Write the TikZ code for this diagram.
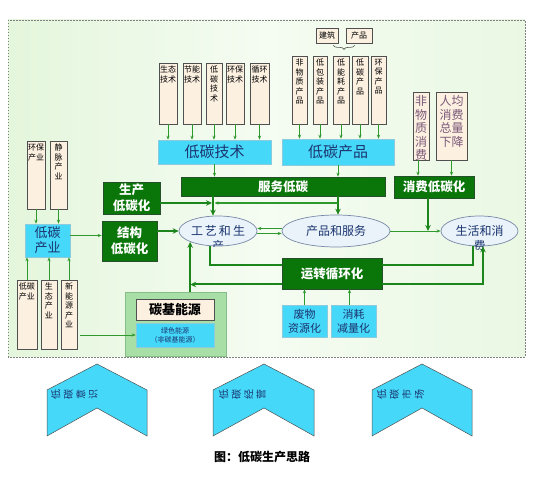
\documentclass[tikz,border=0pt]{standalone}
\usepackage{fontspec}
\setmainfont{Noto Sans CJK SC}
\usetikzlibrary{arrows.meta,shapes.geometric,decorations.pathreplacing}

\definecolor{bggreen}{HTML}{E4F6DC}
\definecolor{bglight}{HTML}{F5FCF2}
\definecolor{beige}{HTML}{FCF0E1}
\definecolor{boxgray}{HTML}{505050}
\definecolor{skyfill}{HTML}{45D8F8}
\definecolor{skyline}{HTML}{8CCBDD}
\definecolor{navy}{HTML}{1B3470}
\definecolor{darkgrn}{HTML}{0A760A}
\definecolor{grnbord}{HTML}{24502A}
\definecolor{arrgrn}{HTML}{2E9A2E}
\definecolor{thkgrn}{HTML}{1C851C}
\definecolor{ovfill}{HTML}{E9F3F9}
\definecolor{ovline}{HTML}{7888A8}
\definecolor{grpfill}{HTML}{A7DFA7}
\definecolor{grpline}{HTML}{88BC88}
\definecolor{plum}{HTML}{7A5878}

\newcommand{\sidech}[1]{\rotatebox{90}{#1}\hspace{3.3pt}}

\begin{document}
\begin{tikzpicture}[x=1pt,y=-1pt,
  colbox/.style={draw=boxgray, fill=beige, line width=0.7pt, inner sep=0pt},
  coltxt/.style={anchor=north, align=center, inner sep=0pt, yshift=-3pt, font=\fontsize{8}{9.5}\selectfont},
  bigtxt/.style={anchor=north, align=center, inner sep=0pt, yshift=-4pt, text=plum, font=\fontsize{12}{13.5}\selectfont},
  skybox/.style={draw=skyline, fill=skyfill, text=navy, align=center, inner sep=0pt, line width=0.6pt},
  grnbox/.style={draw=grnbord, fill=darkgrn, text=white, align=center, inner sep=0pt, line width=0.6pt, font=\bfseries\fontsize{12.5}{16}\selectfont},
  oval/.style={ellipse, draw=ovline, fill=ovfill, inner sep=0pt, line width=0.7pt},
  ovtxt/.style={text=navy, align=center, inner sep=0pt, font=\fontsize{12}{15}\selectfont},
  feed/.style={draw=arrgrn, line width=0.8pt, -{Stealth[length=4pt,width=3.2pt]}},
  trunk/.style={draw=thkgrn, line width=2pt},
  trunkarr/.style={trunk, -{Stealth[length=6pt,width=5.5pt]}},
  chev/.style={draw=boxgray, fill=skyfill, line width=0.5pt},
  chevtxt/.style={anchor=west, text=navy, inner sep=0pt, font=\fontsize{10}{10}\selectfont},
]
  \useasboundingbox (0,0) rectangle (550,486);

  % Background panel
  \shade[left color=bggreen, right color=bggreen!80!white, middle color=bglight] (8,20) rectangle (525,357);
  \draw[gray, line width=0.7pt, dash pattern=on 1.5pt off 1.5pt] (8,20) rectangle (525,357);

  % Technologies
  \node[colbox, minimum width=18, minimum height=61, label={[coltxt]north:生态\\技术}] (eco) at (168,93.5) {};
  \node[colbox, minimum width=18, minimum height=61, label={[coltxt]north:节能\\技术}] (ensave) at (192,93.5) {};
  \node[colbox, minimum width=16, minimum height=61, label={[coltxt]north:低\\碳\\技\\术}] (lctech) at (214,93.5) {};
  \node[colbox, minimum width=18, minimum height=61, label={[coltxt]north:环保\\技术}] (envtech) at (235,93.5) {};
  \node[colbox, minimum width=19, minimum height=61, label={[coltxt]north:循环\\技术}] (cyctech) at (259.5,93.5) {};
  \node[skybox, minimum width=113, minimum height=24, font=\fontsize{15}{16}\selectfont] (lowtech) at (214.5,152) {低碳技术};
  \foreach \n in {eco,ensave,lctech,envtech,cyctech}
    \draw[feed] (\n.south) -- (\n.south |- lowtech.north);

  % Products
  \node[colbox, minimum width=22, minimum height=15, font=\fontsize{8}{9}\selectfont] (build) at (327,35.5) {建筑};
  \node[colbox, minimum width=26, minimum height=15, font=\fontsize{8}{9}\selectfont] (prodlbl) at (359,35.5) {产品};
  \draw[boxgray, line width=0.6pt, decorate, decoration={brace, mirror, amplitude=4pt}]
    ([xshift=-5,yshift=-2]build.south east) -- ([xshift=9,yshift=-2]prodlbl.south west);
  \node[colbox, minimum width=15, minimum height=68, label={[coltxt]north:非\\物\\质\\产\\品}] (nonmat) at (299.5,90) {};
  \node[colbox, minimum width=14, minimum height=68, label={[coltxt]north:低\\包\\装\\产\\品}] (lowpack) at (320,90) {};
  \node[colbox, minimum width=16, minimum height=68, label={[coltxt]north:低\\能\\耗\\产\\品}] (lowener) at (341,90) {};
  \node[colbox, minimum width=16, minimum height=68, label={[coltxt]north:低\\碳\\产\\品}] (lowcarb) at (360,90) {};
  \node[colbox, minimum width=15, minimum height=68, label={[coltxt]north:环\\保\\产\\品}] (envprod) at (378.5,90) {};
  \node[skybox, minimum width=112, minimum height=26, font=\fontsize{15}{16}\selectfont] (lowprod) at (338,152) {低碳产品};
  \foreach \n in {nonmat,lowpack,lowener,lowcarb,envprod}
    \draw[feed] (\n.south) -- (\n.south |- lowprod.north);

  % Consumption
  \node[colbox, minimum width=16, minimum height=68, label={[bigtxt]north:非\\物\\质\\消\\费}] (nmcons) at (421,126) {};
  \node[colbox, minimum width=31, minimum height=68, label={[bigtxt]north:人均\\消费\\总量\\下降}] (percap) at (451.5,126) {};
  \node[grnbox, minimum width=80, minimum height=22] (conslow) at (434,187) {消费低碳化};
  \draw[feed] ([xshift=-3]nmcons.south) -- ([xshift=-3]nmcons.south |- conslow.north);
  \draw[feed] (percap.south) -- (percap.south |- conslow.north);

  % Low-carbon layers
  \node[grnbox, minimum width=204, minimum height=19] (service) at (283,186.5) {服务低碳};
  \node[grnbox, minimum width=57, minimum height=32] (prodlow) at (131.5,198) {生产\\低碳化};
  \node[grnbox, minimum width=55, minimum height=40] (struct) at (129.5,241) {结构\\低碳化};
  \draw[feed] (lowtech.south) -- (lowtech.south |- service.north);
  \draw[feed] (lowprod.south) -- (lowprod.south |- service.north);

  % Industries
  \node[skybox, minimum width=45, minimum height=33, font=\fontsize{13}{15}\selectfont] (ind) at (47.5,240.5) {低碳\\产业};
  \node[colbox, minimum width=18, minimum height=68, label={[coltxt]north:环保\\产业}] (envind) at (36,175) {};
  \node[colbox, minimum width=17, minimum height=68, label={[coltxt]north:静\\脉\\产\\业}] (veinind) at (58.5,175) {};
  \node[colbox, minimum width=20, minimum height=69, label={[coltxt]north:低碳\\产业}] (lcind) at (27,314.5) {};
  \node[colbox, minimum width=16, minimum height=69, label={[coltxt]north:生\\态\\产\\业}] (ecoind) at (49,314.5) {};
  \node[colbox, minimum width=16, minimum height=69, label={[coltxt]north:新\\能\\源\\产\\业}] (newen) at (69,314.5) {};
  \foreach \n in {envind,veinind}
    \draw[feed] (\n.south) -- (\n.south |- ind.north);
  \foreach \n in {lcind,ecoind,newen}
    \draw[feed] (\n.north) -- (\n.north |- ind.south);
  \draw[feed] ([yshift=5]ind.east) -- ([yshift=5]ind.east -| struct.west);

  % Energy
  \node[draw=grpline, fill=grpfill, line width=0.8pt, minimum width=101, minimum height=64, inner sep=0pt] (group) at (175.5,324) {};
  \node[colbox, minimum width=78, minimum height=21, font=\bfseries\fontsize{13}{14}\selectfont] (carbase) at (175,309.5) {碳基能源};
  \node[skybox, minimum width=78, minimum height=24, font=\fontsize{7}{9}\selectfont] (green) at (175,335) {绿色能源\\（非碳基能源）};
  \draw[feed] ([xshift=3]newen.east |- green.west) -- (green.west);

  % Process chain
  \node[oval, minimum width=78, minimum height=30] (process) at (218,231) {};
  \begin{scope}
    \clip (175,214) rectangle (262,246.5);
    \node[ovtxt] (proctxt) at (218,238.5) {工\,艺\,和\,生\\产};
  \end{scope}
  \node[oval, ovtxt, minimum width=108, minimum height=32] (prodserv) at (336,231) {产品和服务};
  \node[oval, minimum width=77, minimum height=30] (life) at (479.5,231) {};
  \begin{scope}
    \clip (438,213) rectangle (522,249.5);
    \node[ovtxt] (lifetxt) at (479.5,238.5) {生活和消\\费};
  \end{scope}

  \coordinate (jp) at (213,203);
  \coordinate (js) at (338,203);
  \coordinate (jc) at (428,231);
  \draw[trunkarr] (service.south -| jp) -- (process.north -| jp);
  \draw[trunkarr] (service.south -| js) -- (prodserv.north -| js);
  \draw[trunkarr] (prodlow.east |- jp) -- ([xshift=-1]jp);
  \draw[feed, line width=1.2pt] (js) -- ([xshift=1.5]jp);
  \draw[trunkarr] (struct.east |- process.west) -- (process.west);
  \draw[feed] ([yshift=2.5]prodserv.west) -- ([yshift=2.5]process.east);
  \draw[feed] ([yshift=-2.5]process.east) -- ([yshift=-2.5]prodserv.west);
  \draw[feed] (prodserv.east) -- (life.west);
  \draw[trunkarr] (conslow.south -| jc) -- (jc);

  % Circulation
  \node[grnbox, minimum width=100, minimum height=31] (loop) at (332,273.5) {运转循环化};
  \node[skybox, minimum width=45, minimum height=32, font=\fontsize{11}{14}\selectfont] (waste) at (304.5,321) {废物\\资源化};
  \node[skybox, minimum width=45, minimum height=32, font=\fontsize{11}{14}\selectfont] (reduce) at (353.5,321) {消耗\\减量化};
  \draw[feed] (waste.north) -- (waste.north |- loop.south);
  \draw[feed] ([xshift=-4]reduce.north) -- ([xshift=-4]reduce.north |- loop.south);
  \draw[trunk] ([yshift=8.5]loop.west) -| ([xshift=-8]process.south);
  \draw[trunkarr] ([yshift=-11]loop.west) -- ([yshift=-11]loop.west -| process.south west);
  \draw[trunkarr] (group.north -| process.south west) -- (process.south west);
  \draw[trunk] ([yshift=8.5]loop.east) -| ([xshift=-6.5]life.south);
  \draw[trunkarr] ([yshift=-11]loop.east) -| ([xshift=3.5]life.south);

  % Chevrons
  \draw[chev] (47,390) -- (97,364) -- (147,390) -- (147,436) -- (97,408) -- (47,436) -- cycle;
  \draw[chev] (213,390) -- (264,364) -- (314,390) -- (314,436) -- (264,408) -- (213,436) -- cycle;
  \draw[chev] (372,390) -- (422,364) -- (472,390) -- (472,436) -- (422,408) -- (372,436) -- cycle;
  \node[chevtxt] (aware) at (51,395) {\sidech{低}\sidech{碳}\sidech{意}\sidech{识}};
  \node[chevtxt] (manage) at (219,395) {\sidech{低}\sidech{碳}\sidech{经}\sidech{营}};
  \node[chevtxt] (market) at (377,395) {\sidech{低}\sidech{碳}\sidech{市}\sidech{场}};

  \node[font=\bfseries\fontsize{12}{13}\selectfont] (caption) at (262,457) {图：低碳生产思路};
\end{tikzpicture}
\end{document}
